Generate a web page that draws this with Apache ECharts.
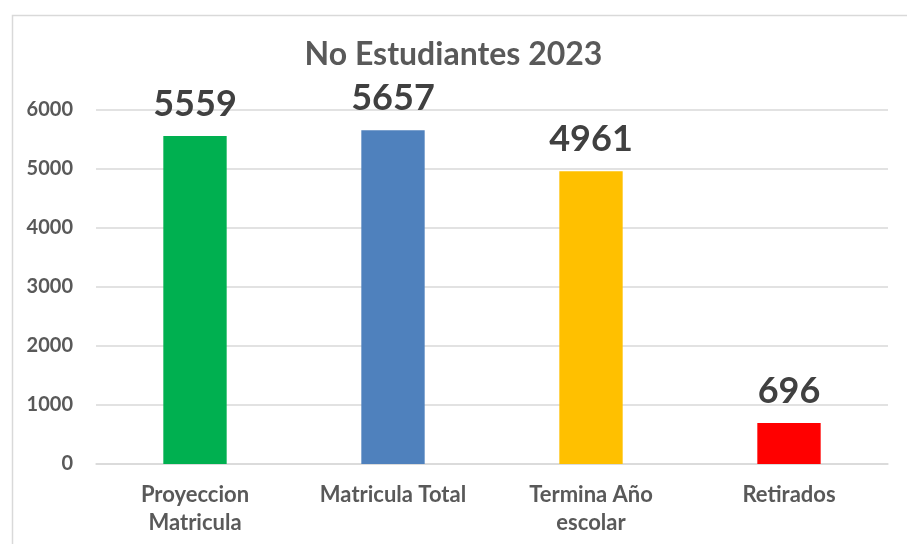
<!DOCTYPE html>
<html><head><meta charset="utf-8">
<script src="https://cdn.jsdelivr.net/npm/echarts@6/dist/echarts.min.js"></script>
<style>html,body{margin:0;padding:0;background:#fff}#c{width:907px;height:544px}</style>
</head><body><div id="c"></div>
<script>
const categories = ['Proyeccion\nMatricula', 'Matricula Total', 'Termina Año\nescolar', 'Retirados'];
const values = [5559, 5657, 4961, 696];
const colors = ['#00B050', '#4F81BD', '#FFC000', '#FF0000'];
const yTicks = [0, 1000, 2000, 3000, 4000, 5000, 6000];
const titleText = 'No Estudiantes 2023';

const chart = echarts.init(document.getElementById('c'), null, {renderer: 'canvas'});
chart.setOption({
  animation: false,
  backgroundColor: '#fff',
  graphic: [{
    type: 'rect', left: 10, top: 13,
    shape: {width: 1000, height: 1000},
    style: {fill: 'none', stroke: '#d9d9d9', lineWidth: 1.5}
  }],
  title: {
    text: titleText, left: 'center', top: 34,
    textStyle: {fontFamily: 'Lato', fontWeight: 'bold', fontSize: 32, color: '#595959'}
  },
  grid: {left: 96, right: 19, top: 110, bottom: 80},
  xAxis: {
    type: 'category', data: categories,
    axisTick: {show: false},
    axisLine: {show: true, lineStyle: {color: '#d9d9d9', width: 1.5}},
    axisLabel: {fontFamily: 'Lato', fontWeight: 'bold', fontSize: 22, color: '#595959', margin: 17, lineHeight: 28, interval: 0}
  },
  yAxis: {
    type: 'value', min: yTicks[0], max: yTicks[yTicks.length - 1], interval: 1000,
    axisLine: {show: false}, axisTick: {show: false},
    splitLine: {lineStyle: {color: '#d9d9d9', width: 1.5}},
    axisLabel: {fontFamily: 'Lato', fontWeight: 'bold', fontSize: 20, color: '#595959', margin: 23, formatter: v => String(v)}
  },
  series: [{
    type: 'bar', barWidth: '32%',
    data: values.map((v, i) => ({value: v, itemStyle: {color: colors[i]}})),
    label: {show: true, position: 'top', distance: 14, fontFamily: 'Lato', fontWeight: 'bold', fontSize: 36, color: '#404040'}
  }]
});
</script></body></html>
